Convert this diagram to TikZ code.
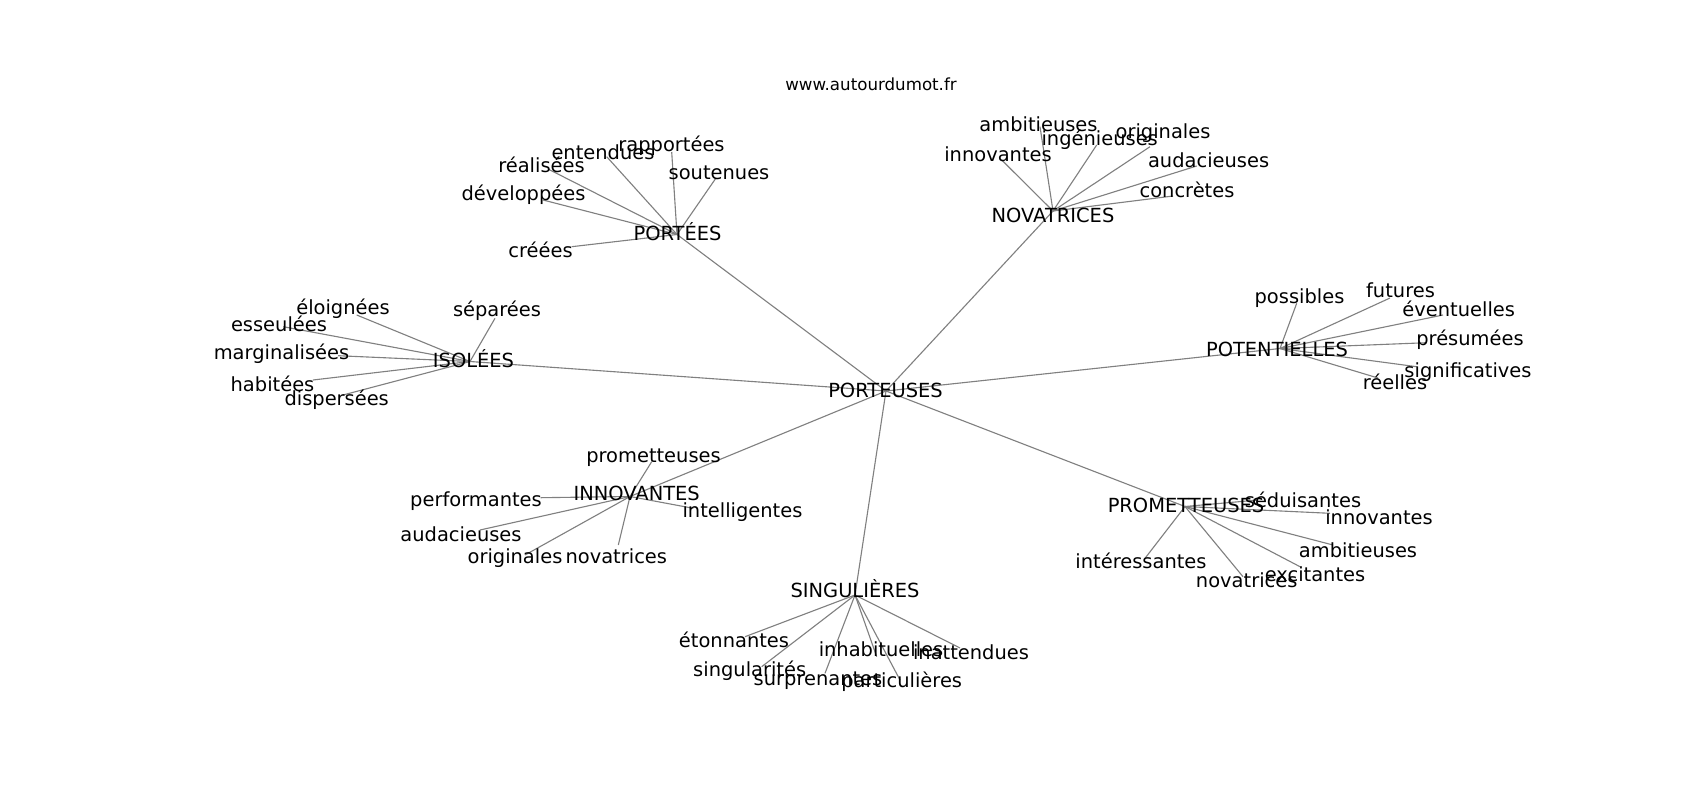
\documentclass[tikz,border=0pt]{standalone}
\usepackage{fontspec}
\setmainfont{DejaVu Sans}
\begin{document}
\begin{tikzpicture}[x=0.72pt,y=-0.72pt,
  lbl/.style={inner sep=0pt,anchor=center,text height=10.6pt,text depth=3.4pt,font=\fontsize{14}{16}\selectfont},
  edge/.style={draw=gray,line width=0.8pt}]
\useasboundingbox[fill=white] (0,0) rectangle (1700,800);
\node[anchor=base,inner sep=0pt,font=\fontsize{12}{14}\selectfont] (title) at (871,90) {www.autourdumot.fr};
% hubs
\coordinate (c0) at (886,391);
\coordinate (c1) at (677,234.5);
\coordinate (c2) at (1053,211);
\coordinate (c3) at (470,361.5);
\coordinate (c4) at (1280,348.5);
\coordinate (c5) at (630,496.5);
\coordinate (c6) at (1185,506.5);
\coordinate (c7) at (855,595);
% PORTEES leaves
\coordinate (e11) at (671.7,152);
\coordinate (e12) at (606.7,156.7);
\coordinate (e13) at (548,169);
\coordinate (e14) at (716,178);
\coordinate (e15) at (543,200);
\coordinate (e16) at (571.7,246.7);
% NOVATRICES leaves
\coordinate (e21) at (1040,126.7);
\coordinate (e22) at (1096.7,145);
\coordinate (e23) at (1150,146.7);
\coordinate (e24) at (1001.7,160);
\coordinate (e25) at (1196.7,166);
\coordinate (e26) at (1173,196);
% ISOLEES leaves
\coordinate (e31) at (356.7,315);
\coordinate (e32) at (283.3,326.7);
\coordinate (e33) at (338,355.7);
\coordinate (e34) at (313,380);
\coordinate (e35) at (495,318.3);
\coordinate (e36) at (343,395);
% POTENTIELLES leaves
\coordinate (e41) at (1296.7,303.3);
\coordinate (e42) at (1390,298);
\coordinate (e43) at (1443,315);
\coordinate (e44) at (1426.7,342.7);
\coordinate (e45) at (1416.7,366.7);
\coordinate (e46) at (1378,378);
% INNOVANTES leaves
\coordinate (e51) at (651.7,461.7);
\coordinate (e52) at (540.7,497.7);
\coordinate (e53) at (480,530);
\coordinate (e54) at (525,555);
\coordinate (e55) at (618.3,545);
\coordinate (e56) at (693.3,508.3);
% PROMETTEUSES leaves
\coordinate (e61) at (1258,500);
\coordinate (e62) at (1330,513.3);
\coordinate (e63) at (1333,545);
\coordinate (e64) at (1300,566.7);
\coordinate (e65) at (1243,576.7);
\coordinate (e66) at (1145,558.3);
% SINGULIERES leaves
\coordinate (e71) at (745,636.7);
\coordinate (e72) at (761.7,666.7);
\coordinate (e73) at (825,673.3);
\coordinate (e74) at (876.7,656.7);
\coordinate (e75) at (960,648);
\coordinate (e76) at (900,680);
% edges
\foreach \h in {1,...,7}{\draw[edge] (c0) -- (c\h);}
\foreach \h in {1,...,7}{\foreach \k in {1,...,6}{\draw[edge] (c\h) -- (e\h\k);}}
% labels
\node[lbl] (l0) at (885.5,392) {PORTEUSES};
\node[lbl] (l1) at (677.5,235.5) {PORTÉES};
\node[lbl] (l2) at (1053,217) {NOVATRICES};
\node[lbl] (l3) at (473.5,362.5) {ISOLÉES};
\node[lbl] (l4) at (1277,351) {POTENTIELLES};
\node[lbl] (l5) at (636.7,495) {INNOVANTES};
\node[lbl] (l6) at (1186,507.7) {PROMETTEUSES};
\node[lbl] (l7) at (855,592) {SINGULIÈRES};
\node[lbl] (l11) at (671.5,146.5) {rapportées};
\node[lbl] (l12) at (603,154.5) {entendues};
\node[lbl] (l13) at (541.5,167) {réalisées};
\node[lbl] (l14) at (719,174) {soutenues};
\node[lbl] (l15) at (523.5,195.5) {développées};
\node[lbl] (l16) at (540.5,252) {créées};
\node[lbl] (l21) at (1038.5,126.5) {ambitieuses};
\node[lbl] (l22) at (1099.7,140) {ingénieuses};
\node[lbl] (l23) at (1163,133) {originales};
\node[lbl] (l24) at (998,156) {innovantes};
\node[lbl] (l25) at (1208.6,162.5) {audacieuses};
\node[lbl] (l26) at (1187,192.5) {concrètes};
\node[lbl] (l31) at (343,309) {éloignées};
\node[lbl] (l32) at (279,326) {esseulées};
\node[lbl] (l33) at (281.5,354) {marginalisées};
\node[lbl] (l34) at (272.5,386) {habitées};
\node[lbl] (l35) at (497,311) {séparées};
\node[lbl] (l36) at (336.7,400.5) {dispersées};
\node[lbl] (l41) at (1299.5,298.7) {possibles};
\node[lbl] (l42) at (1400.5,292.5) {futures};
\node[lbl] (l43) at (1458.7,311) {éventuelles};
\node[lbl] (l44) at (1470,340) {présumées};
\node[lbl] (l45) at (1468,372) {significatives};
\node[lbl] (l46) at (1395,384.6) {réelles};
\node[lbl] (l51) at (653.5,457.5) {prometteuses};
\node[lbl] (l52) at (476,501.5) {performantes};
\node[lbl] (l53) at (461,536.7) {audacieuses};
\node[lbl] (l54) at (515,558) {originales};
\node[lbl] (l55) at (616.3,558.7) {novatrices};
\node[lbl] (l56) at (742.5,512.5) {intelligentes};
\node[lbl] (l61) at (1303,502) {séduisantes};
\node[lbl] (l62) at (1379,519) {innovantes};
\node[lbl] (l63) at (1358,552.7) {ambitieuses};
\node[lbl] (l64) at (1315,576) {excitantes};
\node[lbl] (l65) at (1246.7,582.7) {novatrices};
\node[lbl] (l66) at (1141,563.7) {intéressantes};
\node[lbl] (l71) at (734,642.5) {étonnantes};
\node[lbl] (l72) at (749.7,671.5) {singularités};
\node[lbl] (l73) at (818,680) {surprenantes};
\node[lbl] (l74) at (881,651) {inhabituelles};
\node[lbl] (l75) at (971,654) {inattendues};
\node[lbl] (l76) at (901.7,682) {particulières};
\end{tikzpicture}
\end{document}
